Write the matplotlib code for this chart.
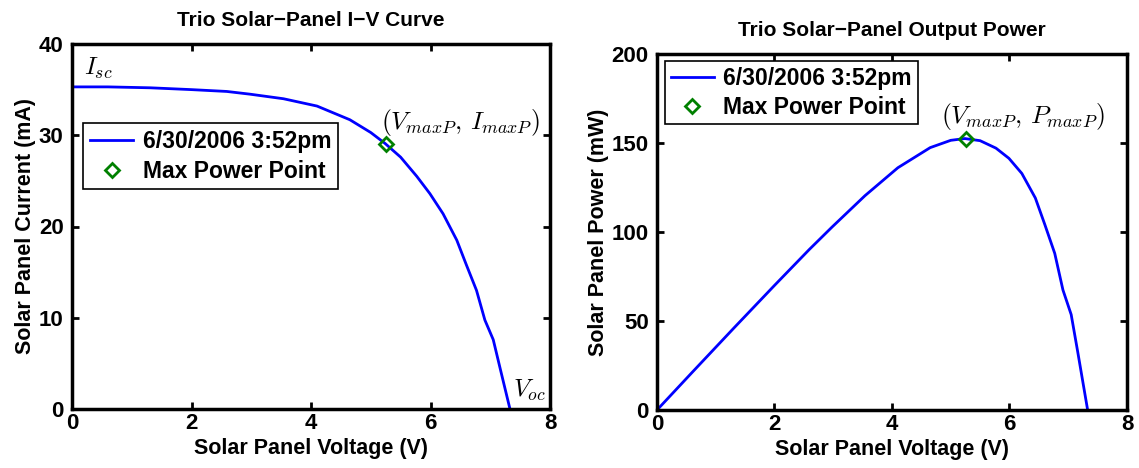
import numpy as np
import matplotlib.pyplot as plt

plt.rcParams['font.family'] = 'Liberation Sans'
plt.rcParams['font.weight'] = 'bold'
plt.rcParams['mathtext.fontset'] = 'cm'

# readings
volts = [0.0, 0.6, 1.31, 2.0, 2.59, 2.98, 3.54, 4.10, 4.65, 5.0, 5.24, 5.5, 5.77,
         5.99, 6.21, 6.44, 6.60, 6.77, 6.91, 7.05, 7.16, 7.33]
current = [35.3, 35.3, 35.2, 35.0, 34.8, 34.5, 34.0, 33.2, 31.7, 30.3, 29.1, 27.6, 25.5,
           23.6, 21.4, 18.5, 15.8, 13.0, 9.75, 7.6, 4.6, 0.0]
power = [0.0, 21.2, 46.1, 70.0, 90.1, 102.8, 120.4, 136.1, 147.4, 151.5, 152.5, 151.3, 147.1,
         141.4, 132.9, 119.1, 104.3, 88.0, 67.4, 53.6, 32.9, 0.0]
v_mp, i_mp, p_mp = 5.26, 29.0, 152.5
label_line = '6/30/2006 3:52pm'
label_pt = 'Max Power Point'

fig = plt.figure(figsize=(11.39, 4.68), dpi=100)
ax1 = fig.add_axes([72/1139, 1-409/468, 478/1139, 365/468])
ax2 = fig.add_axes([657/1139, 1-410/468, 470/1139, 356/468])

green = (0, 0.5, 0)
fs_lab = 15.5
fs_leg = 16.5

ax1.plot(volts, current, color='blue', lw=2, label=label_line)
ax1.plot(v_mp, i_mp, 'D', mfc='none', mec=green, mew=2, ms=7, label=label_pt)
ax1.set_xlim(0, 8)
ax1.set_ylim(0, 40)
ax1.set_xticks([0, 2, 4, 6, 8])
ax1.set_yticks([0, 10, 20, 30, 40])
ax1.set_title('Trio Solar\u2212Panel I\u2212V Curve', fontsize=15, fontweight='bold', pad=13)
ax1.set_xlabel('Solar Panel Voltage (V)', fontsize=fs_lab, fontweight='bold', labelpad=3)
ax1.set_ylabel('Solar Panel Current (mA)', fontsize=fs_lab, fontweight='bold', labelpad=2)
ax1.text(0.2, 36.6, '$I_{sc}$', fontsize=18)
ax1.text(7.38, 1.3, '$V_{oc}$', fontsize=18)
ax1.text(5.17, 30.7, r'$(V_{maxP},\, I_{maxP})$', fontsize=18.5)
ax1.legend(loc='upper left', bbox_to_anchor=(0.023, 0.784), fontsize=fs_leg, frameon=True,
           fancybox=False, edgecolor='black', framealpha=1, borderpad=0.3,
           handlelength=1.9, handletextpad=0.4, labelspacing=0.3, borderaxespad=0)

ax2.plot(volts, power, color='blue', lw=2, label=label_line)
ax2.plot(v_mp, p_mp, 'D', mfc='none', mec=green, mew=2, ms=7, label=label_pt)
ax2.set_xlim(0, 8)
ax2.set_ylim(0, 200)
ax2.set_xticks([0, 2, 4, 6, 8])
ax2.set_yticks([0, 50, 100, 150, 200])
ax2.set_title('Trio Solar\u2212Panel Output Power', fontsize=15, fontweight='bold', pad=13)
ax2.set_xlabel('Solar Panel Voltage (V)', fontsize=fs_lab, fontweight='bold', labelpad=3)
ax2.set_ylabel('Solar Panel Power (mW)', fontsize=fs_lab, fontweight='bold', labelpad=2)
ax2.text(4.83, 161.5, r'$(V_{maxP},\, P_{maxP})$', fontsize=18.5)
ax2.legend(loc='upper left', bbox_to_anchor=(0.017, 0.98), fontsize=fs_leg, frameon=True,
           fancybox=False, edgecolor='black', framealpha=1, borderpad=0.25,
           handlelength=1.9, handletextpad=0.4, labelspacing=0.25, borderaxespad=0)

for ax in (ax1, ax2):
    for s in ax.spines.values():
        s.set_linewidth(2.5)
    ax.tick_params(direction='in', top=True, right=True, width=2, length=5,
                   labelsize=16)
    ax.tick_params(axis='x', pad=3)
    ax.tick_params(axis='y', pad=6)
    for t in ax.get_xticklabels() + ax.get_yticklabels():
        t.set_fontweight('bold')
    ax.get_legend().get_frame().set_linewidth(1.2)

fig.savefig('out.png', dpi=100)
